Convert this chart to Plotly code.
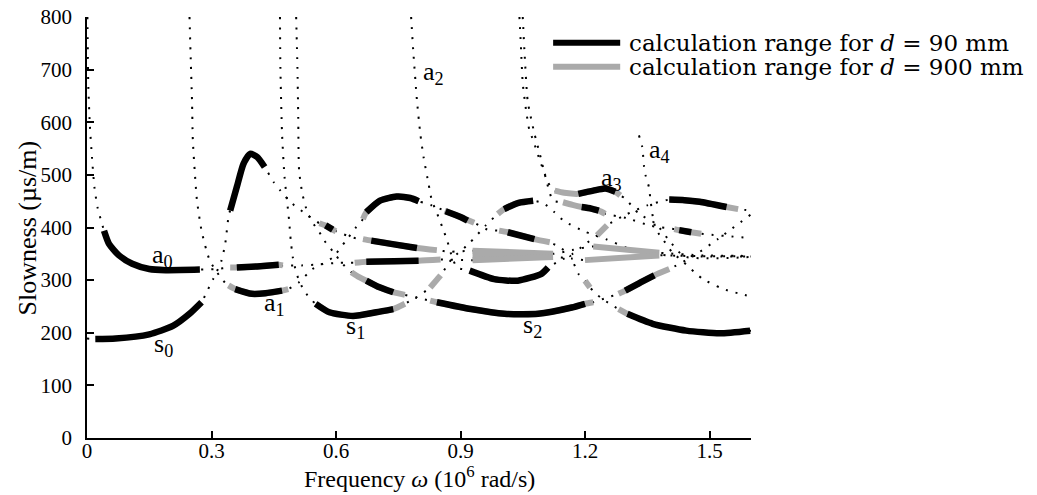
import plotly.graph_objects as go

FONT = "Liberation Serif"

# ---------------- dotted dispersion curves (modes) ----------------
a0_x = [0.001, 0.002, 0.003, 0.0066, 0.012, 0.018, 0.026, 0.034, 0.041, 0.053, 0.077, 0.109, 0.15, 0.19, 0.272, 0.308,
        0.345, 0.41, 0.472, 0.518, 0.56, 0.608, 0.645, 0.74, 0.852, 0.929, 1.123, 1.168, 1.2, 1.379, 1.484, 1.6]
a0_y = [800, 737, 674, 598, 533, 476, 436, 413, 394, 369, 347, 331, 321, 319, 320, 321,
        324, 326, 328, 328, 330, 333, 333, 336, 339, 338, 344, 341, 338, 347, 345, 345]

s0_x = [0.0, 0.02, 0.069, 0.15, 0.207, 0.247, 0.276, 0.292, 0.304, 0.312, 0.324, 0.333, 0.342, 0.345, 0.361, 0.377,
        0.393, 0.41, 0.428, 0.45, 0.466, 0.495, 0.527, 0.56, 0.58, 0.60, 0.625, 0.649, 0.665, 0.74, 0.843, 0.876,
        0.929, 1.123, 1.168, 1.22, 1.379, 1.484, 1.6]
s0_y = [189, 188, 189, 197, 213, 236, 258, 283, 302, 315, 337, 369, 426, 432, 477, 521,
        540, 534, 515, 486, 470, 445, 426, 408, 402, 393, 385, 379, 378, 368, 357, 354,
        356, 350, 357, 364, 352, 347, 346]

a1_x = [0.247, 0.25, 0.253, 0.255, 0.26, 0.265, 0.276, 0.288, 0.296, 0.308, 0.328, 0.341, 0.357, 0.397, 0.43, 0.47,
        0.485, 0.511, 0.543, 0.568, 0.592, 0.624, 0.649, 0.665, 0.673, 0.706, 0.746, 0.779, 0.799, 0.815, 0.831,
        0.862, 0.9, 0.933, 0.965, 0.993, 1.014, 1.078, 1.115, 1.14, 1.165, 1.184, 1.2, 1.212, 1.237, 1.26, 1.281,
        1.302, 1.363, 1.444, 1.525, 1.6]
a1_y = [800, 718, 642, 566, 502, 451, 394, 356, 337, 321, 299, 290, 283, 274, 275, 280,
        283, 296, 321, 331, 343, 375, 401, 416, 429, 451, 459, 456, 450, 446, 442,
        432, 420, 409, 396, 394, 391, 378, 372, 362, 345, 312, 299, 286, 267, 255, 245,
        236, 217, 204, 199, 204]

s1_x = [0.465, 0.466, 0.47, 0.476, 0.482, 0.487, 0.491, 0.496, 0.503, 0.511, 0.519, 0.535, 0.551, 0.584, 0.641,
        0.697, 0.738, 0.766, 0.795, 0.827, 0.852, 0.88, 0.92, 0.961, 0.99, 1.005, 1.04, 1.075, 1.1, 1.125, 1.15,
        1.2, 1.25, 1.3, 1.35, 1.4, 1.6]
s1_y = [800, 705, 578, 496, 451, 413, 375, 343, 318, 299, 286, 267, 255, 239, 232,
        239, 245, 255, 268, 286, 309, 341, 369, 404, 426, 435, 447, 451, 446, 430, 412,
        392, 378, 362, 352, 347, 345]

s2_x = [0.504, 0.507, 0.509, 0.511, 0.519, 0.531, 0.543, 0.56, 0.572, 0.584, 0.6, 0.612, 0.637, 0.657, 0.673,
        0.738, 0.766, 0.795, 0.827, 0.843, 0.925, 1.006, 1.087, 1.168, 1.2, 1.22, 1.25, 1.281, 1.297, 1.33, 1.367,
        1.403, 1.46, 1.52, 1.6]
s2_y = [800, 706, 610, 509, 464, 429, 410, 391, 375, 363, 347, 334, 315, 305, 299,
        277, 272, 266, 261, 258, 245, 236, 236, 248, 255, 258, 266, 274, 280, 294, 309,
        321, 345, 378, 425]

a2_x = [0.781, 0.786, 0.795, 0.803, 0.811, 0.823, 0.831, 0.844, 0.856, 0.868, 0.88, 0.892, 0.922, 0.981, 1.038,
        1.095, 1.111, 1.14, 1.17, 1.2, 1.229, 1.253, 1.3, 1.35, 1.403, 1.44, 1.476, 1.541, 1.569, 1.6]
a2_y = [800, 737, 642, 579, 534, 483, 451, 426, 401, 375, 343, 324, 318, 302, 299,
        312, 324, 337, 350, 368, 385, 404, 425, 442, 453, 452, 449, 439, 435, 432]

a3_x = [1.042, 1.046, 1.05, 1.058, 1.066, 1.075, 1.083, 1.091, 1.103, 1.115, 1.127, 1.15, 1.184, 1.22, 1.249,
        1.273, 1.285, 1.297, 1.33, 1.371, 1.403, 1.44, 1.6]
a3_y = [800, 737, 674, 623, 585, 566, 547, 528, 502, 480, 470, 466, 464, 470, 474,
        468, 461, 455, 426, 407, 375, 345, 344]

a3b_x = [1.05, 1.054, 1.062, 1.078, 1.091, 1.111, 1.123, 1.147, 1.17, 1.192, 1.215, 1.233, 1.249, 1.3, 1.36,
         1.415, 1.427, 1.456, 1.48, 1.6]
a3b_y = [800, 737, 640, 579, 540, 477, 451, 448, 443, 439, 436, 432, 426, 418, 403,
         397, 395, 391, 388, 380]

a4_x = [1.33, 1.338, 1.342, 1.346, 1.354, 1.358, 1.365, 1.373, 1.39, 1.41, 1.438, 1.464, 1.484, 1.525, 1.549,
        1.574, 1.598]
a4_y = [575, 553, 518, 499, 477, 451, 413, 394, 375, 353, 334, 315, 302, 286, 279, 274, 269]

# ---------------- calculation range d = 900 mm (grey) ----------------
g_a0mid_x = [0.345, 0.361, 0.41, 0.462, 0.472]; g_a0mid_y = [324, 324, 326, 329, 328]
g_a1dip_x = [0.341, 0.357, 0.397, 0.43, 0.47, 0.485]; g_a1dip_y = [290, 283, 274, 275, 280, 283]
g_s1dip_x = [0.551, 0.584, 0.641, 0.697, 0.738, 0.766]; g_s1dip_y = [255, 239, 232, 239, 245, 255]
g_hump1_x = [0.665, 0.673, 0.706, 0.746, 0.779, 0.799]; g_hump1_y = [416, 429, 451, 459, 456, 450]
g_seg8_x = [0.56, 0.58, 0.592, 0.60]; g_seg8_y = [408, 402, 396, 393]
g_seg9_x = [0.665, 0.685, 0.74, 0.795, 0.843]; g_seg9_y = [378, 375, 368, 361, 357]
g_seg10_x = [0.645, 0.673, 0.74, 0.799, 0.852]; g_seg10_y = [333, 335, 336, 337, 339]
g_seg11_x = [0.637, 0.657, 0.673, 0.7, 0.738, 0.766]; g_seg11_y = [315, 305, 299, 288, 277, 272]
g_dashA_x = [0.827, 0.852]; g_dashA_y = [286, 309]
g_s2_x = [0.827, 0.843, 0.925, 1.006, 1.087, 1.168, 1.2, 1.22]; g_s2_y = [261, 258, 245, 236, 236, 248, 255, 258]
g_dashB_x = [0.862, 0.9, 0.933]; g_dashB_y = [432, 420, 409]
g_hump2_x = [0.99, 1.005, 1.04, 1.075]; g_hump2_y = [426, 435, 447, 451]
g_segL_x = [0.993, 1.014, 1.078, 1.115]; g_segL_y = [394, 391, 378, 372]
g_wLt_x = [0.929, 1.123]; g_wLt_y = [356, 350]
g_wLm_x = [0.929, 1.123]; g_wLm_y = [347, 347]
g_wLb_x = [0.929, 1.123]; g_wLb_y = [338, 344]
g_a3_x = [1.127, 1.15, 1.184, 1.22, 1.249, 1.273, 1.285]; g_a3_y = [470, 466, 464, 470, 474, 468, 461]
g_a3b_x = [1.147, 1.17, 1.192, 1.215, 1.233, 1.249]; g_a3b_y = [448, 443, 439, 436, 432, 426]
g_wRt_x = [1.22, 1.379]; g_wRt_y = [364, 352]
g_wRb_x = [1.2, 1.379]; g_wRb_y = [338, 347]
g_dashC_x = [1.2, 1.212]; g_dashC_y = [299, 286]
g_dashD_x = [1.229, 1.253]; g_dashD_y = [385, 404]
g_rise_x = [1.281, 1.297, 1.33, 1.367, 1.403]; g_rise_y = [274, 280, 294, 309, 321]
g_br_x = [1.281, 1.302]; g_br_y = [245, 236]
g_ur_x = [1.403, 1.44, 1.476, 1.541, 1.569]; g_ur_y = [453, 452, 449, 439, 435]
g_short_x = [1.415, 1.427, 1.456, 1.48]; g_short_y = [397, 395, 391, 388]

# ---------------- calculation range d = 90 mm (black) ----------------
k_a0low_x = [0.041, 0.053, 0.077, 0.109, 0.15, 0.19, 0.272]; k_a0low_y = [394, 369, 347, 331, 321, 319, 320]
k_s0_x = [0.02, 0.069, 0.15, 0.207, 0.247, 0.276]; k_s0_y = [188, 189, 197, 213, 236, 258]
k_s0hump_x = [0.345, 0.361, 0.377, 0.393, 0.41, 0.428]; k_s0hump_y = [432, 477, 521, 540, 534, 515]
k_a0mid_x = [0.361, 0.41, 0.462]; k_a0mid_y = [324, 326, 329]
k_a1dip_x = [0.357, 0.397, 0.43, 0.47]; k_a1dip_y = [283, 274, 275, 280]
k_s1dip_x = [0.551, 0.584, 0.641, 0.697, 0.738]; k_s1dip_y = [255, 239, 232, 239, 245]
k_hump1_x = [0.673, 0.706, 0.746, 0.779, 0.799]; k_hump1_y = [429, 451, 459, 456, 450]
k_seg8_x = [0.575, 0.592]; k_seg8_y = [404, 396]
k_seg9_x = [0.685, 0.74, 0.795]; k_seg9_y = [375, 368, 361]
k_seg10_x = [0.673, 0.74, 0.799]; k_seg10_y = [335, 336, 337]
k_seg11_x = [0.673, 0.7, 0.738]; k_seg11_y = [299, 288, 277]
k_s2_x = [0.843, 0.925, 1.006, 1.087, 1.168, 1.2]; k_s2_y = [258, 245, 236, 236, 248, 255]
k_dashB_x = [0.864, 0.9, 0.917]; k_dashB_y = [431, 420, 413]
k_hump2_x = [1.005, 1.04, 1.075]; k_hump2_y = [435, 447, 451]
k_segL_x = [1.014, 1.078]; k_segL_y = [391, 378]
k_under_x = [0.922, 0.981, 1.038, 1.095, 1.111]; k_under_y = [318, 302, 299, 312, 324]
k_a3_x = [1.184, 1.22, 1.249, 1.273]; k_a3_y = [464, 470, 474, 468]
k_a3b_x = [1.192, 1.215, 1.233]; k_a3b_y = [439, 436, 432]
k_rise_x = [1.297, 1.33, 1.367]; k_rise_y = [280, 294, 309]
k_br_x = [1.302, 1.363, 1.444, 1.525, 1.598]; k_br_y = [236, 217, 204, 199, 204]
k_ur_x = [1.403, 1.44, 1.476, 1.541]; k_ur_y = [453, 452, 449, 439]
k_short_x = [1.427, 1.456]; k_short_y = [395, 391]

# ---------------- mode labels ----------------
label_text = ["a<sub>0</sub>", "s<sub>0</sub>", "a<sub>1</sub>", "s<sub>1</sub>", "a<sub>2</sub>",
              "s<sub>2</sub>", "a<sub>3</sub>", "a<sub>4</sub>"]
label_x = [0.183, 0.185, 0.452, 0.647, 0.834, 1.073, 1.265, 1.38]
label_y = [345, 177, 255, 210, 693, 213, 493, 545]

x_ticks = [0, 0.3, 0.6, 0.9, 1.2, 1.5]
x_ticktext = ["0", "0.3", "0.6", "0.9", "1.2", "1.5"]
y_ticks = [0, 100, 200, 300, 400, 500, 600, 700, 800]

legend_text = ["calculation range for <i>d</i> = 90 mm", "calculation range for <i>d</i> = 900 mm"]
x_title = "Frequency <i>ω</i> (10<sup>6</sup> rad/s)"
y_title = "Slowness (µs/m)"

GREY = "#aaaaaa"
fig = go.Figure()

dotted = [(a0_x, a0_y), (s0_x, s0_y), (a1_x, a1_y), (s1_x, s1_y), (s2_x, s2_y),
          (a2_x, a2_y), (a3_x, a3_y), (a3b_x, a3b_y), (a4_x, a4_y)]
for xs, ys in dotted:
    fig.add_trace(go.Scatter(x=xs, y=ys, mode="lines",
                             line=dict(color="black", width=2, dash="2px,8px", shape="spline", smoothing=0.6),
                             hoverinfo="skip", showlegend=False))

grey = [(g_a0mid_x, g_a0mid_y), (g_a1dip_x, g_a1dip_y), (g_s1dip_x, g_s1dip_y), (g_hump1_x, g_hump1_y),
        (g_seg8_x, g_seg8_y), (g_seg9_x, g_seg9_y), (g_seg10_x, g_seg10_y), (g_seg11_x, g_seg11_y),
        (g_dashA_x, g_dashA_y), (g_s2_x, g_s2_y), (g_dashB_x, g_dashB_y), (g_hump2_x, g_hump2_y),
        (g_segL_x, g_segL_y), (g_wLt_x, g_wLt_y), (g_wLm_x, g_wLm_y), (g_wLb_x, g_wLb_y),
        (g_a3_x, g_a3_y), (g_a3b_x, g_a3b_y), (g_wRt_x, g_wRt_y), (g_wRb_x, g_wRb_y),
        (g_dashC_x, g_dashC_y), (g_dashD_x, g_dashD_y), (g_rise_x, g_rise_y), (g_br_x, g_br_y),
        (g_ur_x, g_ur_y), (g_short_x, g_short_y)]
for xs, ys in grey:
    fig.add_trace(go.Scatter(x=xs, y=ys, mode="lines",
                             line=dict(color=GREY, width=6, shape="spline", smoothing=0.6),
                             hoverinfo="skip", showlegend=False))

black = [(k_a0low_x, k_a0low_y), (k_s0_x, k_s0_y), (k_s0hump_x, k_s0hump_y), (k_a0mid_x, k_a0mid_y),
         (k_a1dip_x, k_a1dip_y), (k_s1dip_x, k_s1dip_y), (k_hump1_x, k_hump1_y), (k_seg8_x, k_seg8_y),
         (k_seg9_x, k_seg9_y), (k_seg10_x, k_seg10_y), (k_seg11_x, k_seg11_y), (k_s2_x, k_s2_y),
         (k_dashB_x, k_dashB_y), (k_hump2_x, k_hump2_y), (k_segL_x, k_segL_y), (k_under_x, k_under_y),
         (k_a3_x, k_a3_y), (k_a3b_x, k_a3b_y), (k_rise_x, k_rise_y), (k_br_x, k_br_y),
         (k_ur_x, k_ur_y), (k_short_x, k_short_y)]
for xs, ys in black:
    fig.add_trace(go.Scatter(x=xs, y=ys, mode="lines",
                             line=dict(color="black", width=6.5, shape="spline", smoothing=0.6),
                             hoverinfo="skip", showlegend=False))

for t, lx, ly in zip(label_text, label_x, label_y):
    fig.add_annotation(x=lx, y=ly, text=t, showarrow=False, font=dict(size=26, family=FONT, color="black"),
                       xanchor="center", yanchor="middle")

# legend drawn as sample lines + text
leg_y = [0.939, 0.882]
leg_col = ["black", GREY]
for yy, col, txt in zip(leg_y, leg_col, legend_text):
    fig.add_shape(type="line", xref="paper", yref="paper", x0=0.702, x1=0.803, y0=yy, y1=yy,
                  line=dict(color=col, width=6))
    fig.add_annotation(xref="paper", yref="paper", x=0.813, y=yy, text=txt, showarrow=False,
                       xanchor="left", yanchor="middle", font=dict(size=23, family="DejaVu Serif", color="black"))

# axis titles
fig.add_annotation(xref="paper", yref="paper", x=0.5, y=-0.093, text=x_title, showarrow=False,
                   xanchor="center", yanchor="middle", font=dict(size=24, family=FONT, color="black"))
fig.add_annotation(xref="paper", yref="paper", x=-0.0889, y=0.5, text=y_title, showarrow=False,
                   textangle=-90, xanchor="center", yanchor="middle",
                   font=dict(size=26, family=FONT, color="black"))

fig.update_layout(
    width=1021, height=485,
    margin=dict(l=79, r=278, t=9, b=55, autoexpand=False),
    paper_bgcolor="white", plot_bgcolor="white",
    showlegend=False,
    font=dict(family=FONT, color="black"),
)
fig.update_xaxes(range=[0, 1.6], tickvals=x_ticks, ticktext=x_ticktext, ticks="inside", ticklen=7,
                 tickwidth=1.5, tickcolor="black", showline=True, linecolor="black", linewidth=1.8,
                 showgrid=False, zeroline=False, tickfont=dict(size=21, family=FONT),
                 ticklabelstandoff=-7, automargin=False)
fig.update_yaxes(range=[0, 800], tickvals=y_ticks, ticks="inside", ticklen=7, tickwidth=1.5,
                 tickcolor="black", showline=True, linecolor="black", linewidth=1.8,
                 showgrid=False, zeroline=False, tickfont=dict(size=21, family=FONT),
                 ticklabelstandoff=9, ticklabeloverflow="allow", automargin=False)

fig.write_html("out.html")
